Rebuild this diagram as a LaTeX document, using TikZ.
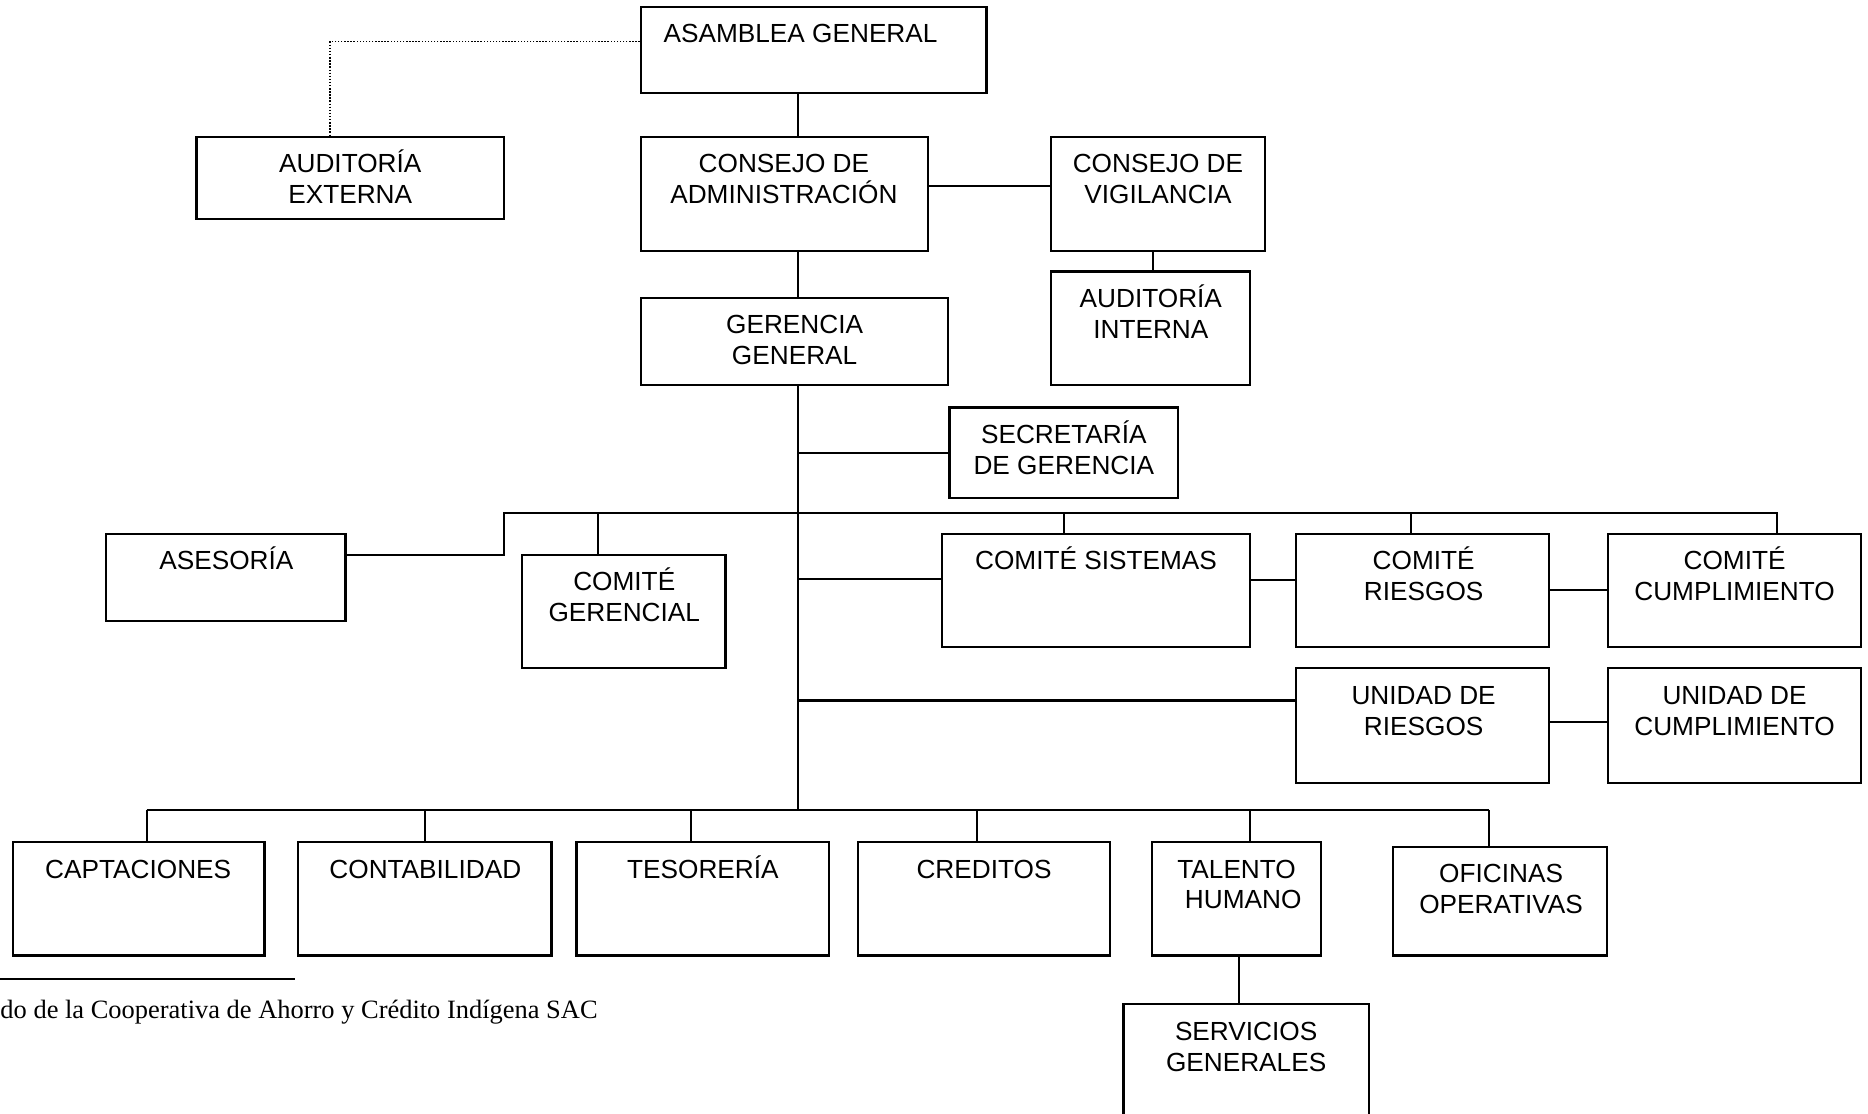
\documentclass[tikz,border=0pt]{standalone}
\usepackage{fontspec}
\setmainfont{Liberation Sans}
\newfontfamily\notefont{Liberation Serif}
\usetikzlibrary{fit}

\tikzset{
  unit/.style={draw, line width=0.95pt, inner sep=0pt},
  lbl/.style={inner sep=0pt, align=center, anchor=base,
              font=\fontsize{11}{13}\selectfont},
  link/.style={line width=0.85pt},
  dotlink/.style={line width=0.6pt, dash pattern=on 0.6pt off 0.7pt},
}

\begin{document}
\begin{tikzpicture}[x=0.5pt, y=-0.5pt]
\useasboundingbox (0,0) rectangle (1568,935);
\clip (0,0) rectangle (1568,935);

% ---- units of the organisation ----
\node[unit, fit={(538,6) (828,78)}]     (asamblea) {};
\node[unit, fit={(165,115) (423,184)}]  (audext) {};
\node[unit, fit={(538,115) (779,211)}]  (cadm) {};
\node[unit, fit={(882,115) (1062,211)}] (cvig) {};
\node[unit, fit={(882,228) (1049,323)}] (audint) {};
\node[unit, fit={(538,250) (796,323)}]  (gerencia) {};
\node[unit, fit={(797,342) (989,418)}]  (secret) {};
\node[unit, fit={(89,448) (290,521)}]   (asesoria) {};
\node[unit, fit={(438,466) (609,561)}]  (cger) {};
\node[unit, fit={(791,448) (1049,543)}] (csis) {};
\node[unit, fit={(1088,448) (1300,543)}] (cries) {};
\node[unit, fit={(1350,448) (1562,543)}] (ccum) {};
\node[unit, fit={(1088,561) (1300,657)}] (uries) {};
\node[unit, fit={(1350,561) (1562,657)}] (ucum) {};
\node[unit, fit={(11,707) (222,802)}]   (capt) {};
\node[unit, fit={(250,707) (463,802)}]  (conta) {};
\node[unit, fit={(484,707) (696,802)}]  (teso) {};
\node[unit, fit={(720,707) (932,802)}]  (cred) {};
\node[unit, fit={(967,707) (1109,802)}] (talento) {};
\node[unit, fit={(1169,711) (1349,802)}] (ofic) {};
\node[unit, fit={(943,843) (1149,960)}] (serv) {};

% ---- names of the units (base = baseline of the last line) ----
\node[lbl] (t-asamblea) at (672,36)  {ASAMBLEA GENERAL};
\node[lbl] (t-audext)   at (294,171) {AUDITORÍA\\EXTERNA};
\node[lbl] (t-cadm)     at (658,171) {CONSEJO DE\\ADMINISTRACIÓN};
\node[lbl] (t-cvig)     at (972,171) {CONSEJO DE\\VIGILANCIA};
\node[lbl] (t-audint)   at (966,284) {AUDITORÍA\\INTERNA};
\node[lbl] (t-gerencia) at (667,306) {GERENCIA\\GENERAL};
\node[lbl] (t-secret)   at (893,398) {SECRETARÍA\\DE GERENCIA};
\node[lbl] (t-asesoria) at (190,478) {ASESORÍA};
\node[lbl] (t-cger)     at (524,522) {COMITÉ\\GERENCIAL};
\node[lbl] (t-csis)     at (920,478) {COMITÉ SISTEMAS};
\node[lbl] (t-cries)    at (1195,504) {COMITÉ\\RIESGOS};
\node[lbl] (t-ccum)     at (1456,504) {COMITÉ\\CUMPLIMIENTO};
\node[lbl] (t-uries)    at (1195,617) {UNIDAD DE\\RIESGOS};
\node[lbl] (t-ucum)     at (1456,617) {UNIDAD DE\\CUMPLIMIENTO};
\node[lbl] (t-capt)     at (116,737) {CAPTACIONES};
\node[lbl] (t-conta)    at (357,737) {CONTABILIDAD};
\node[lbl] (t-teso)     at (590,737) {TESORERÍA};
\node[lbl] (t-cred)     at (826,737) {CREDITOS};
\node[lbl] (t-talento)  at (1038,763) {TALENTO\\\hspace*{0.5em}HUMANO};
\node[lbl] (t-ofic)     at (1260,767) {OFICINAS\\OPERATIVAS};
\node[lbl] (t-serv)     at (1046,899) {SERVICIOS\\GENERALES};

% ---- reference points of the line network ----
\coordinate (trunk) at (670,0);
\coordinate (dk)    at (277,35);
\coordinate (cv)    at (830,156);
\coordinate (va)    at (968,0);
\coordinate (topbus) at (0,431);
\coordinate (asx)   at (423,466);
\coordinate (sisy)  at (0,486);
\coordinate (srx)   at (0,487);
\coordinate (uy)    at (0,588);
\coordinate (ucy)   at (0,606);
\coordinate (lowbus) at (0,680);
\coordinate (tsx)   at (1040,0);

% ---- connectors ----
\draw[dotlink] (asamblea.west |- dk) -- (dk) -- (dk |- audext.north);
\draw[link] (asamblea.south -| trunk) -- (cadm.north -| trunk);
\draw[link] (cadm.east |- cv) -- (cvig.west |- cv);
\draw[link] (cvig.south -| va) -- (audint.north -| va);
\draw[link] (cadm.south -| trunk) -- (gerencia.north -| trunk);
\draw[link] (gerencia.south -| trunk) -- (trunk |- lowbus);
\draw[link] (trunk |- secret.west) -- (secret.west);

% upper bus: advisers and committees
\draw[link] (ccum.north -| 1492,0) -- (1492,431) -- (asx |- topbus) -- (asx) -- (asesoria.east |- asx);
\draw[link] (502,431) -- (cger.north -| 502,0);
\draw[link] (893,431) -- (csis.north -| 893,0);
\draw[link] (1184,431) -- (cries.north -| 1184,0);
\draw[link] (trunk |- sisy) -- (csis.west |- sisy);
\draw[link] (csis.east |- srx) -- (cries.west |- srx);
\draw[link] (cries.east) -- (ccum.west);
\draw[link] (trunk |- uy) -- (uries.west |- uy);
\draw[link] (uries.east |- ucy) -- (ucum.west |- ucy);

% lower bus: operating departments
\draw[link] (123,680) -- (1250,680);
\draw[link] (123,680) -- (capt.north -| 123,0);
\draw[link] (357,680) -- (conta.north -| 357,0);
\draw[link] (580,680) -- (teso.north -| 580,0);
\draw[link] (820,680) -- (cred.north -| 820,0);
\draw[link] (1049,680) -- (talento.north -| 1049,0);
\draw[link] (1250,680) -- (ofic.north -| 1250,0);
\draw[link] (talento.south -| tsx) -- (serv.north -| tsx);

% ---- footnote ----
\draw[line width=0.7pt] (0,822) coordinate (fn-a) -- (248,822) coordinate (fn-b);
\node[inner sep=0pt, anchor=base west, font=\notefont\fontsize{11.1}{13}\selectfont] (footnote)
  at (0,855) {do de la Cooperativa de Ahorro y Crédito Indígena SAC};
\end{tikzpicture}
\end{document}
